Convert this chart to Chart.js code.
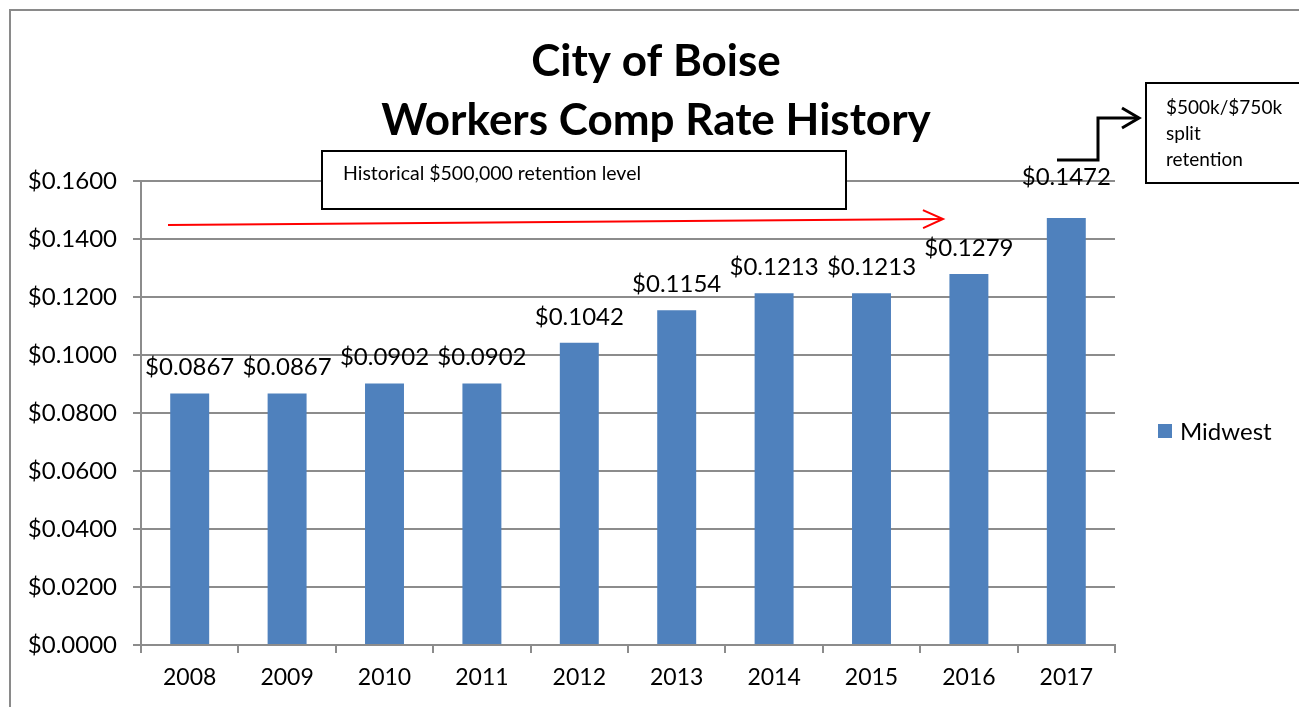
<!DOCTYPE html>
<html>
<head>
<meta charset="utf-8">
<script src="https://cdn.jsdelivr.net/npm/chart.js@4"></script>
<style>
  html, body { margin: 0; padding: 0; background: #fff; }
  #wrap { width: 1299px; height: 707px; }
</style>
</head>
<body>
<div id="wrap"><canvas id="rateChart"></canvas></div>
<script>
// Data
const YEARS = ['2008', '2009', '2010', '2011', '2012', '2013', '2014', '2015', '2016', '2017'];
const RATES = [0.0867, 0.0867, 0.0902, 0.0902, 0.1042, 0.1154, 0.1213, 0.1213, 0.1279, 0.1472];
const SERIES_NAME = 'Midwest';
const TITLE_LINES = ['City of Boise', 'Workers Comp Rate History'];
const NOTE_HIST = 'Historical $500,000 retention level';
const NOTE_SPLIT = ['$500k/$750k', 'split', 'retention'];

const FONT = 'Lato, "Open Sans", sans-serif';
const BAR_COLOR = '#4F81BD';
const GRID_COLOR = '#8c8c8c';

const money = v => '$' + Number(v).toFixed(4);

function arrowHead(ctx, x, y, dx, dy, len, half) {
    // open chevron pointing in direction (dx, dy)
    const ang = Math.atan2(dy, dx);
    ctx.beginPath();
    ctx.moveTo(x - len * Math.cos(ang) + half * Math.sin(ang), y - len * Math.sin(ang) - half * Math.cos(ang));
    ctx.lineTo(x, y);
    ctx.lineTo(x - len * Math.cos(ang) - half * Math.sin(ang), y - len * Math.sin(ang) + half * Math.cos(ang));
    ctx.stroke();
}

// Title, data labels, legend and the two callouts
const decorations = {
    id: 'decorations',
    afterDraw(chart) {
        const ctx = chart.ctx;
        const area = chart.chartArea;
        ctx.save();

        // outer chart border
        ctx.strokeStyle = '#8a8a8a';
        ctx.lineWidth = 2;
        ctx.strokeRect(10, 10, 1400, 800);

        // title
        ctx.fillStyle = '#000';
        ctx.textAlign = 'center';
        ctx.textBaseline = 'middle';
        ctx.font = 'bold 44px ' + FONT;
        ctx.fillText(TITLE_LINES[0], 656, 62);
        ctx.fillText(TITLE_LINES[1], 656, 121);

        // value labels above bars (the last one was nudged up in the original)
        ctx.font = '24px ' + FONT;
        const meta = chart.getDatasetMeta(0);
        meta.data.forEach((bar, i) => {
            const lift = i === meta.data.length - 1 ? 41 : 26;
            ctx.fillText(money(RATES[i]), bar.x, bar.y - lift);
        });

        // legend
        ctx.fillStyle = BAR_COLOR;
        ctx.fillRect(area.right + 43, 424, 14, 14);
        ctx.fillStyle = '#000';
        ctx.textAlign = 'left';
        ctx.font = '24px ' + FONT;
        ctx.fillText(SERIES_NAME, area.right + 65, 432);

        // historical retention box
        ctx.fillStyle = '#fff';
        ctx.fillRect(322, 151, 524, 58);
        ctx.strokeStyle = '#000';
        ctx.lineWidth = 2;
        ctx.strokeRect(322, 151, 524, 58);
        ctx.fillStyle = '#000';
        ctx.font = '19.5px ' + FONT;
        ctx.fillText(NOTE_HIST, 343, 174);

        // red arrow
        ctx.strokeStyle = '#ff0000';
        ctx.lineWidth = 2;
        ctx.beginPath();
        ctx.moveTo(168, 225);
        ctx.lineTo(943, 219);
        ctx.stroke();
        arrowHead(ctx, 943, 219, 775, -6, 20, 9);

        // split retention box
        ctx.fillStyle = '#fff';
        ctx.fillRect(1146, 83, 160, 100);
        ctx.strokeStyle = '#000';
        ctx.lineWidth = 2;
        ctx.strokeRect(1146, 83, 160, 100);
        ctx.fillStyle = '#000';
        ctx.font = '19px ' + FONT;
        NOTE_SPLIT.forEach((t, i) => ctx.fillText(t, 1166, 108 + i * 26));

        // black elbow arrow
        ctx.lineWidth = 3;
        ctx.beginPath();
        ctx.moveTo(1057, 160);
        ctx.lineTo(1098, 160);
        ctx.lineTo(1098, 118);
        ctx.lineTo(1139, 118);
        ctx.stroke();
        arrowHead(ctx, 1139, 118, 1, 0, 17, 10);

        ctx.restore();
    }
};

new Chart(document.getElementById('rateChart'), {
    type: 'bar',
    data: {
        labels: YEARS,
        datasets: [{
            label: SERIES_NAME,
            data: RATES,
            backgroundColor: BAR_COLOR,
            barPercentage: 0.4,
            categoryPercentage: 1.0
        }]
    },
    options: {
        responsive: true,
        maintainAspectRatio: false,
        animation: false,
        layout: {
            padding: { left: 10, top: 181, right: 184, bottom: 17 }
        },
        scales: {
            x: {
                grid: {
                    offset: true,
                    drawOnChartArea: false,
                    tickLength: 8,
                    color: GRID_COLOR,
                    lineWidth: 2
                },
                border: { color: GRID_COLOR, width: 2 },
                ticks: {
                    color: '#000',
                    font: { family: FONT, size: 23 },
                    padding: 11
                },
                afterFit: s => { s.height = 45; }
            },
            y: {
                min: 0,
                max: 0.16,
                ticks: {
                    stepSize: 0.02,
                    color: '#000',
                    font: { family: FONT, size: 24 },
                    padding: 16,
                    callback: v => money(v)
                },
                grid: {
                    color: GRID_COLOR,
                    lineWidth: 2,
                    tickLength: 8
                },
                border: { color: GRID_COLOR, width: 2 },
                afterFit: s => { s.width = 131; }
            }
        },
        plugins: {
            legend: { display: false },
            title: { display: false },
            tooltip: { enabled: false }
        }
    },
    plugins: [decorations]
});
</script>
</body>
</html>
